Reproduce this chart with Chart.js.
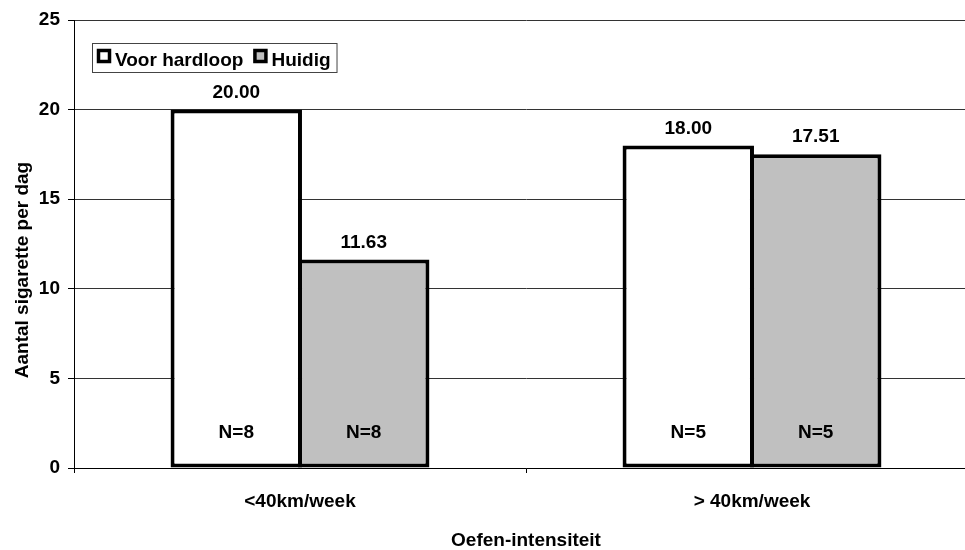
<!DOCTYPE html>
<html>
<head>
<meta charset="utf-8">
<script src="https://cdn.jsdelivr.net/npm/chart.js@4.4.1/dist/chart.umd.min.js"></script>
<style>
  html, body { margin: 0; padding: 0; background: #fff; overflow: hidden; }
  #wrap { width: 980px; height: 550px; }
</style>
</head>
<body>
<div id="wrap"><canvas id="c" width="980" height="550"></canvas></div>
<script>
const categories = ['<40km/week', '> 40km/week'];
const seriesNames = ['Voor hardloop', 'Huidig'];
const voorHardloop = [20.00, 18.00];
const huidig = [11.63, 17.51];
const nVoor = ['N=8', 'N=5'];
const nHuidig = ['N=8', 'N=5'];
const yTicks = [0, 5, 10, 15, 20, 25];
const yTitle = 'Aantal sigarette per dag';
const xTitle = 'Oefen-intensiteit';

const FONT = "'Liberation Sans', Arial, sans-serif";
const FS = 19;

const labelPlugin = {
  id: 'labels',
  afterDatasetsDraw(chart) {
    const ctx = chart.ctx;
    const yScale = chart.scales.y;
    const nSets = [nVoor, nHuidig];
    ctx.save();
    ctx.font = `bold ${FS}px ${FONT}`;
    ctx.fillStyle = '#000';
    ctx.textAlign = 'center';
    ctx.textBaseline = 'middle';
    chart.data.datasets.forEach((ds, di) => {
      const meta = chart.getDatasetMeta(di);
      meta.data.forEach((bar, i) => {
        ctx.fillText(ds.data[i].toFixed(2), bar.x, bar.y - 17);
        ctx.fillText(nSets[di][i], bar.x, yScale.getPixelForValue(0) - 35);
      });
    });
    // y axis title
    ctx.save();
    ctx.translate(23, 270);
    ctx.rotate(-Math.PI / 2);
    ctx.fillText(yTitle, 0, 0);
    ctx.restore();
    // legend box
    const x0 = 92, y0 = 43, h = 29;
    let x = x0 + 5;
    const items = [];
    chart.data.datasets.forEach((ds) => {
      const w = ctx.measureText(ds.label).width;
      items.push({ ds, x, w });
      x += 18 + w + 10;
    });
    const boxW = x - 10 + 6 - x0;
    ctx.fillStyle = '#fff';
    ctx.fillRect(x0, y0, boxW, h);
    ctx.strokeStyle = '#444';
    ctx.lineWidth = 1;
    ctx.strokeRect(x0 + 0.5, y0 + 0.5, boxW, h);
    ctx.textAlign = 'left';
    items.forEach(it => {
      ctx.fillStyle = it.ds.backgroundColor;
      ctx.fillRect(it.x + 1.5, y0 + 7.5, 11, 11);
      ctx.strokeStyle = '#000';
      ctx.lineWidth = 3.5;
      ctx.strokeRect(it.x + 1.5, y0 + 7.5, 11, 11);
      ctx.fillStyle = '#000';
      ctx.fillText(it.ds.label, it.x + 18, y0 + 18);
    });
    ctx.restore();
  }
};

new Chart(document.getElementById('c'), {
  type: 'bar',
  data: {
    labels: categories,
    datasets: [
      { label: seriesNames[0], data: voorHardloop, backgroundColor: '#ffffff', borderColor: '#000', borderWidth: 4, borderSkipped: false },
      { label: seriesNames[1], data: huidig, backgroundColor: '#c0c0c0', borderColor: '#000', borderWidth: 4, borderSkipped: false }
    ]
  },
  options: {
    responsive: false,
    animation: false,
    layout: { padding: { top: 20, right: 2, left: 0, bottom: 0 } },
    categoryPercentage: 0.564,
    barPercentage: 1.031,
    plugins: { legend: { display: false }, tooltip: { enabled: false } },
    scales: {
      x: {
        afterFit(s) { s.height = 82; },
        grid: { offset: true, drawOnChartArea: false, drawTicks: true, tickLength: 5, color: '#000', lineWidth: 1 },
        border: { display: true, color: '#000', width: 1 },
        ticks: { color: '#000', font: { family: FONT, size: FS, weight: 'bold' }, padding: 17 },
        title: { display: true, text: xTitle, color: '#000', font: { family: FONT, size: FS, weight: 'bold', lineHeight: 1.0 }, padding: { top: 0, bottom: 0 } }
      },
      y: {
        min: 0, max: 25,
        afterFit(s) { s.width = 74; },
        afterBuildTicks(s) { s.ticks = yTicks.map(v => ({ value: v })); },
        grid: { color: '#333', lineWidth: 1, tickLength: 6, tickColor: '#000' },
        border: { display: true, color: '#000', width: 1 },
        ticks: { color: '#000', font: { family: FONT, size: FS, weight: 'bold' }, padding: 8 },
        title: { display: false }
      }
    }
  },
  plugins: [labelPlugin]
});
</script>
</body>
</html>
